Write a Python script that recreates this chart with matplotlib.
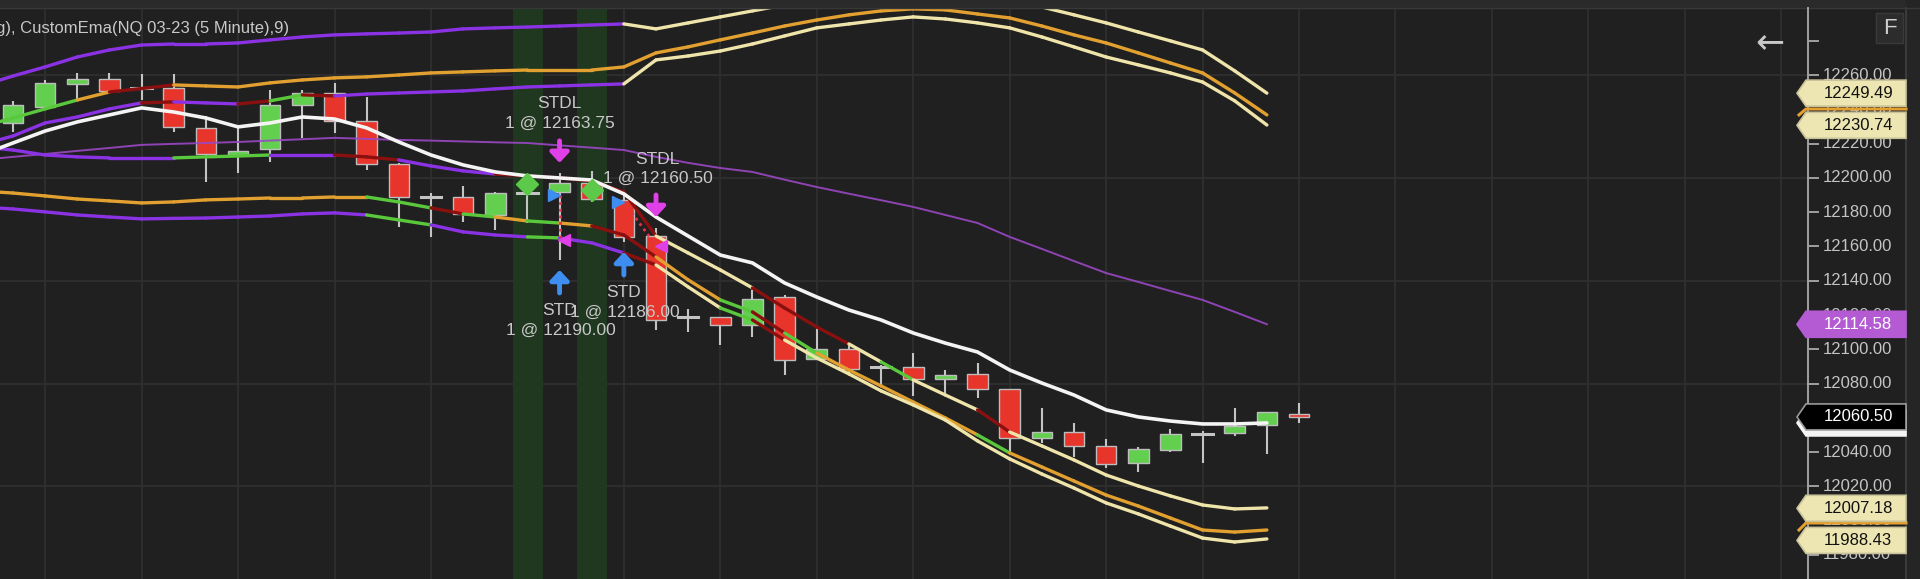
import matplotlib
matplotlib.use("Agg")
import matplotlib.pyplot as plt
from matplotlib.collections import LineCollection
from matplotlib.patches import Rectangle, Polygon
import numpy as np

plt.rcParams["font.family"] = ["Liberation Sans", "DejaVu Sans"]

# ---- candles, bars 0..40 (NQ 03-23, 5 minute) ----
opens = [12232.0, 12241.6, 12255.0, 12257.6, 12252.7, 12252.7, 12229.0, 12213.4, 12216.8, 12242.6,
         12249.4, 12233.3, 12208.2, 12189.1, 12189.1, 12178.4, 12191.0, 12192.0, 12197.0, 12187.2,
         12166.0, 12118.9, 12119.0, 12114.2, 12130.7, 12094.1, 12100.0, 12089.5, 12089.5, 12082.7,
         12085.6, 12076.8, 12048.4, 12051.9, 12043.6, 12033.8, 12041.2, 12050.6, 12050.9, 12055.8,
         12062.5]
highs = [12245.0, 12257.2, 12261.1, 12261.0, 12260.5, 12260.5, 12236.2, 12229.6, 12251.4, 12251.4,
         12255.3, 12247.1, 12208.5, 12191.0, 12195.5, 12192.0, 12197.0, 12202.7, 12204.3, 12190.0,
         12170.6, 12123.5, 12119.0, 12134.6, 12131.7, 12113.2, 12102.5, 12090.8, 12097.6, 12087.9,
         12091.8, 12076.8, 12065.9, 12057.2, 12047.6, 12043.1, 12053.5, 12052.5, 12065.9, 12063.6,
         12068.5]
lows = [12227.0, 12240.5, 12246.0, 12250.0, 12245.5, 12226.7, 12197.8, 12202.7, 12209.5, 12223.2,
        12226.1, 12204.7, 12171.2, 12165.7, 12174.1, 12169.6, 12173.5, 12152.1, 12186.2, 12162.8,
        12111.3, 12110.3, 12102.5, 12107.4, 12085.0, 12093.7, 12085.0, 12078.2, 12072.7, 12074.7,
        12071.7, 12039.0, 12045.1, 12037.3, 12030.5, 12028.6, 12039.9, 12033.4, 12049.6, 12039.0,
        12056.8]
closes = [12242.6, 12255.3, 12258.0, 12251.0, 12252.7, 12230.0, 12213.8, 12215.8, 12242.6, 12249.4,
          12233.3, 12208.0, 12189.1, 12189.1, 12179.0, 12191.0, 12191.0, 12197.0, 12187.7, 12165.7,
          12117.0, 12118.9, 12114.2, 12129.4, 12094.0, 12100.0, 12088.3, 12089.5, 12082.7, 12084.8,
          12076.8, 12048.4, 12051.9, 12043.7, 12033.0, 12041.8, 12050.3, 12050.6, 12055.2, 12063.6,
          12060.5]

# ---- indicator lines, one value per bar from bar -1 to bar 39 ----
line_start = -1
upper_a = [12253.7, 12259.5, 12264.8, 12270.6, 12274.7, 12277.6, 12278.2, 12278.2, 12278.8, 12280.6,
           12282.3, 12283.5, 12284.1, 12284.6, 12285.2, 12287.0, 12287.6, 12288.1, 12288.7, 12289.3,
           12289.9, 12287.0, 12290.5, 12294.0, 12297.5, 12301.0, 12304.5, 12308.0, 12310.3, 12311.5,
           12310.9, 12308.6, 12305.1, 12299.8, 12295.2, 12290.5, 12285.2, 12280.0, 12274.7, 12262.5,
           12249.5]
upper_b = [12229.8, 12235.0, 12240.3, 12245.5, 12250.2, 12252.2, 12254.3, 12253.7, 12253.1, 12255.5,
           12257.2, 12258.4, 12259.0, 12260.1, 12261.3, 12261.9, 12262.5, 12263.0, 12263.0, 12263.0,
           12264.8, 12273.0, 12276.5, 12280.6, 12284.6, 12288.7, 12292.2, 12295.2, 12297.5, 12298.7,
           12298.1, 12295.7, 12293.4, 12288.7, 12283.5, 12278.8, 12273.0, 12267.1, 12261.3, 12249.6,
           12236.8]
upper_c = [12219.3, 12224.5, 12232.1, 12235.6, 12240.3, 12243.8, 12244.4, 12243.8, 12243.2, 12245.0,
           12248.5, 12247.9, 12249.0, 12249.6, 12250.2, 12250.8, 12252.0, 12253.1, 12253.7, 12254.3,
           12254.9, 12268.9, 12271.2, 12274.1, 12278.2, 12282.9, 12287.6, 12289.9, 12292.2, 12294.0,
           12292.8, 12290.5, 12287.6, 12282.3, 12276.5, 12270.6, 12266.0, 12261.3, 12256.0, 12245.0,
           12230.9]
lower_d = [12218.1, 12216.3, 12213.4, 12212.3, 12211.7, 12211.7, 12211.7, 12212.3, 12212.8, 12213.4,
           12213.4, 12213.4, 12212.3, 12210.5, 12207.0, 12204.1, 12202.3, 12201.2, 12200.0, 12198.2,
           12191.8, 12166.1, 12156.2, 12146.3, 12135.8, 12124.1, 12113.0, 12103.1, 12092.6, 12082.1,
           12073.3, 12064.6, 12051.7, 12043.6, 12035.4, 12026.6, 12020.2, 12014.4, 12009.1, 12006.8,
           12007.4]
lower_e = [12192.4, 12191.2, 12189.5, 12187.7, 12186.6, 12185.4, 12186.0, 12187.2, 12187.7, 12188.3,
           12188.3, 12188.9, 12188.9, 12186.0, 12182.5, 12179.0, 12177.2, 12174.9, 12173.7, 12172.0,
           12166.7, 12153.9, 12140.5, 12128.8, 12121.8, 12109.5, 12097.8, 12087.9, 12078.6, 12069.2,
           12059.9, 12050.0, 12039.5, 12031.3, 12023.1, 12014.9, 12008.5, 12001.5, 11994.5, 11993.3,
           11994.5]
lower_f = [12183.1, 12181.9, 12180.2, 12178.4, 12177.2, 12176.1, 12176.4, 12176.6, 12177.2, 12177.8,
           12179.0, 12179.6, 12178.4, 12175.5, 12172.6, 12168.5, 12166.7, 12165.6, 12165.0, 12162.1,
           12156.2, 12149.2, 12136.4, 12124.1, 12117.1, 12105.4, 12094.9, 12085.6, 12075.7, 12067.5,
           12058.7, 12046.5, 12036.0, 12027.2, 12019.0, 12010.3, 12003.9, 11996.8, 11989.8, 11987.5,
           11989.3]
ema9 = [12213.4, 12220.4, 12227.4, 12232.7, 12236.8, 12240.9, 12238.5, 12235.0, 12229.8, 12232.1,
        12235.6, 12234.4, 12229.2, 12221.0, 12213.4, 12207.6, 12203.5, 12201.2, 12200.0, 12198.8,
        12190.7, 12177.2, 12166.1, 12155.0, 12150.4, 12138.7, 12130.5, 12122.9, 12117.1, 12109.5,
        12103.6, 12098.4, 12087.9, 12080.3, 12073.3, 12064.6, 12060.5, 12058.1, 12056.4, 12056.4,
        12057.0]
mid_thin = [12210.5, 12212.3, 12214.0, 12215.8, 12217.5, 12219.3, 12219.9, 12220.4, 12221.0, 12221.8,
            12222.6, 12223.4, 12222.8, 12222.2, 12221.8, 12221.3, 12220.8, 12220.4, 12219.0, 12217.7,
            12216.3, 12212.3, 12208.8, 12205.8, 12203.5, 12199.0, 12194.7, 12190.8, 12187.0, 12183.1,
            12178.4, 12173.7, 12165.6, 12158.6, 12151.5, 12144.5, 12139.3, 12134.0, 12128.8, 12121.8,
            12114.6]

# colour runs (from bar, to bar, colour key) for each segmented line
COL = {"p": "#8a32e4", "o": "#e2a030", "c": "#efe5aa", "r": "#8a1010", "g": "#5ac83c"}
runs = {
    "a": [(-1, 19, "p"), (19, 39, "c")],
    "b": [(-1, 2, "g"), (2, 3, "o"), (3, 5, "r"), (5, 39, "o")],
    "c": [(-1, 4, "p"), (4, 5, "r"), (5, 7, "p"), (7, 8, "r"), (8, 9, "g"), (9, 10, "r"),
          (10, 19, "p"), (19, 39, "c")],
    "d": [(-1, 5, "p"), (5, 8, "g"), (8, 10, "p"), (10, 12, "r"), (12, 15, "p"), (15, 20, "r"),
          (20, 23, "c"), (23, 26, "r"), (26, 27, "c"), (27, 28, "g"), (28, 30, "c"), (30, 31, "r"),
          (31, 39, "c")],
    "e": [(-1, 11, "o"), (11, 13, "g"), (13, 14, "r"), (14, 15, "g"), (15, 16, "o"), (16, 17, "g"),
          (17, 18, "o"), (18, 20, "r"), (20, 22, "o"), (22, 23, "g"), (23, 24, "r"), (24, 25, "g"),
          (25, 30, "o"), (30, 31, "g"), (31, 39, "o")],
    "f": [(-1, 11, "p"), (11, 13, "g"), (13, 16, "p"), (16, 17, "g"), (17, 19, "p"), (19, 20, "r"),
          (20, 22, "c"), (22, 23, "g"), (23, 24, "r"), (24, 39, "c")],
}

# trades
signal_bars = [16, 18]
diamond_vals = [12196.5, 12193.0]
entry_bars = [17, 19]
entry_prices = [12190.00, 12186.00]
exit_bars = [17, 20]
exit_prices = [12163.75, 12160.50]
sell_arrow_vals = [12208.8, 12177.2]
buy_arrow_vals = [12146.3, 12156.8]

# right-axis tags
tag_values = [12249.49, 12230.74, 12114.58, 12060.50, 12007.18, 11988.43]
y_ticks = list(range(11980, 12281, 20))

BG = "#202020"
GRID = "#2f2f2f"
TXT = "#c8c8c8"
W, H = 1920, 579

fig = plt.figure(figsize=(19.2, 5.79), dpi=100, facecolor=BG)
ax = fig.add_axes([0, 0, 1808 / W, 571 / H])
ax.set_facecolor(BG)
ax.set_xlim(-0.404, 55.83)
ax.set_ylim(11965.9, 12299.2)
for s in ax.spines.values():
    s.set_visible(False)
ax.set_xticks([])
ax.set_yticks([])

# grid
for gx in range(1, 56, 3):
    ax.axvline(gx, color=GRID, lw=1.3, zorder=0.5)
for gy in range(11960, 12300, 60):
    ax.axhline(gy, color=GRID, lw=1.3, zorder=0.5)

# signal bands
for b in signal_bars:
    ax.axvspan(b - 0.46, b + 0.48, color="#1f381f", lw=0, zorder=0.8)

# candles
bw = 0.64
for i, (o, h, l, c) in enumerate(zip(opens, highs, lows, closes)):
    ax.plot([i, i], [l, h], color="#c4c4c4", lw=1.5, zorder=2, solid_capstyle="butt")
    if o == c:
        ax.plot([i - bw / 2, i + bw / 2], [o, o], color="#c4c4c4", lw=2.2, zorder=2.1)
    else:
        fc = "#62cf4f" if c > o else "#e8352b"
        ax.add_patch(Rectangle((i - bw / 2, min(o, c)), bw, abs(c - o), facecolor=fc,
                               edgecolor="#bdbdbd", lw=1.0, zorder=2.1))

# lines
xs = np.arange(len(ema9)) + line_start
ax.plot(xs, mid_thin, color="#9a48c4", lw=1.4, alpha=0.9, zorder=2.5)


def seg_line(vals, key):
    segs, cols = [], []
    for a, b, c in runs[key]:
        for k in range(a, b):
            j = k - line_start
            segs.append([(xs[j], vals[j]), (xs[j + 1], vals[j + 1])])
            cols.append(COL[c])
    return LineCollection(segs, colors=cols, linewidths=2.4, capstyle="round", zorder=3)


for vals, key in [(upper_a, "a"), (upper_b, "b"), (upper_c, "c"),
                  (lower_d, "d"), (lower_e, "e"), (lower_f, "f")]:
    ax.add_collection(seg_line(vals, key))
ax.plot(xs, ema9, color="#f4f4f4", lw=2.6, zorder=4, solid_capstyle="round")

# trade markers
ax.plot(signal_bars, diamond_vals, "D", color="#5dc94a", ms=11, zorder=5)
for eb, ep, xb, xp in zip(entry_bars, entry_prices, exit_bars, exit_prices):
    ax.plot([eb, xb], [ep, xp], color="#e8304a", lw=2, ls=(0, (1, 1.4)), zorder=4.5)
ax.plot(np.array(entry_bars) - 0.17, entry_prices, ">", color="#3d8ef0", ms=8, zorder=5)
ax.plot(np.array(exit_bars) + 0.14, exit_prices, "<", color="#e040e8", ms=8, zorder=5)
for b, v in zip(exit_bars, sell_arrow_vals):
    ax.annotate("", xy=(b, v), xytext=(0, 22), textcoords="offset pixels",
                arrowprops=dict(arrowstyle="-|>,head_width=0.28,head_length=0.3", lw=3.5,
                                color="#e040e8", mutation_scale=20, shrinkA=0, shrinkB=0), zorder=5)
for b, v in zip(entry_bars, buy_arrow_vals):
    ax.annotate("", xy=(b, v), xytext=(0, -23), textcoords="offset pixels",
                arrowprops=dict(arrowstyle="-|>,head_width=0.28,head_length=0.3", lw=3.5,
                                color="#3d8ef0", mutation_scale=20, shrinkA=0, shrinkB=0), zorder=5)

# trade texts
fs = 12.5
ax.text(17, 12243.2, "STDL", color=TXT, fontsize=fs, ha="center", va="center", zorder=6)
ax.text(17, 12232.1, "1 @ %.2f" % exit_prices[0], color=TXT, fontsize=fs, ha="center", va="center", zorder=6)
ax.text(20.03, 12210.5, "STDL", color=TXT, fontsize=fs, ha="center", va="center", zorder=6)
ax.text(20.05, 12200.0, "1 @ %.2f" % exit_prices[1], color=TXT, fontsize=fs, ha="center", va="center", zorder=6)
ax.text(17, 12122.4, "STD", color=TXT, fontsize=fs, ha="center", va="center", zorder=6)
ax.text(17.03, 12111.3, "1 @ %.2f" % entry_prices[0], color=TXT, fontsize=fs, ha="center", va="center", zorder=6)
ax.text(19, 12132.9, "STD", color=TXT, fontsize=fs, ha="center", va="center", zorder=6)
ax.text(19.04, 12121.8, "1 @ %.2f" % entry_prices[1], color=TXT, fontsize=fs, ha="center", va="center", zorder=6)

fig.text(-4 / W, 1 - 28 / H, "g), CustomEma(NQ 03-23 (5 Minute),9)", color=TXT, fontsize=12,
         ha="left", va="center")

# ---- overlay in pixel space for the price scale ----
rax = fig.add_axes([0, 0, 1, 1])
rax.set_xlim(0, W)
rax.set_ylim(H, 0)
rax.axis("off")
rax.patch.set_alpha(0)


def ypix(val):
    return H - ax.transData.transform((0, val))[1]


rax.add_patch(Rectangle((0, 0), W, 8, facecolor="#2a2a2a", lw=0))
rax.plot([0, W], [8, 8], color="#383838", lw=1)
rax.add_patch(Rectangle((1906, 0), 14, H, facecolor="#252525", lw=0))
rax.plot([1906, 1906], [8, H], color="#3a3a3a", lw=1.5)
rax.plot([1808, 1808], [8, H], color="#a0a0a0", lw=1.4)

for t in y_ticks:
    y = ypix(t)
    rax.plot([1808, 1818], [y, y], color="#a0a0a0", lw=1.4)
    if t != 12280:
        rax.text(1823, y, "%.2f" % t, color="#c4c4c4", fontsize=12, ha="left", va="center")


def tag(val, fc, tc, ec=None, text=None):
    y = ypix(val)
    pts = [(1797, y), (1806, y - 13), (1906, y - 13), (1906, y + 13), (1806, y + 13)]
    rax.add_patch(Polygon(pts, closed=True, facecolor=fc, edgecolor=ec or fc, lw=1.2, zorder=5))
    if text:
        rax.text(1824, y, text, color=tc, fontsize=12, ha="left", va="center", zorder=6)


# orange connectors squeezed between the cream tags
yo1 = ypix(upper_b[-1])
rax.plot([1799, 1806, 1906], [yo1, 109, 109], color="#e2a030", lw=2.2, zorder=4)
yo2 = ypix(lower_e[-1])
rax.plot([1799, 1806, 1906], [yo2, 523, 523], color="#e2a030", lw=2.2, zorder=4)

cream = "#ede6b2"
tag(tag_values[0], cream, "#111111", "#c9c39a", "%.2f" % tag_values[0])
tag(tag_values[1], cream, "#111111", "#c9c39a", "%.2f" % tag_values[1])
tag(tag_values[2], "#b45ad2", "#ffffff", None, "%.2f" % tag_values[2])
tag(ema9[-1], "#f4f4f4", "#000000", None, None)
tag(tag_values[3], "#000000", "#ffffff", "#9a9a9a", "%.2f" % tag_values[3])
tag(tag_values[4], cream, "#111111", "#c9c39a", "%.2f" % tag_values[4])
tag(tag_values[5], cream, "#111111", "#c9c39a", "%.2f" % tag_values[5])

# chart controls
rax.text(1770, 42, "\u2190", color="#c8c8c8", fontsize=25, family="DejaVu Sans",
         ha="center", va="center")
rax.add_patch(Rectangle((1876, 13), 27, 30, facecolor="#2c2c2c", edgecolor="#3a3a3a", lw=1))
rax.text(1889.5, 28, "F", color="#d0d0d0", fontsize=16, ha="center", va="center")

fig.savefig("out.png", dpi=100, facecolor=BG)
